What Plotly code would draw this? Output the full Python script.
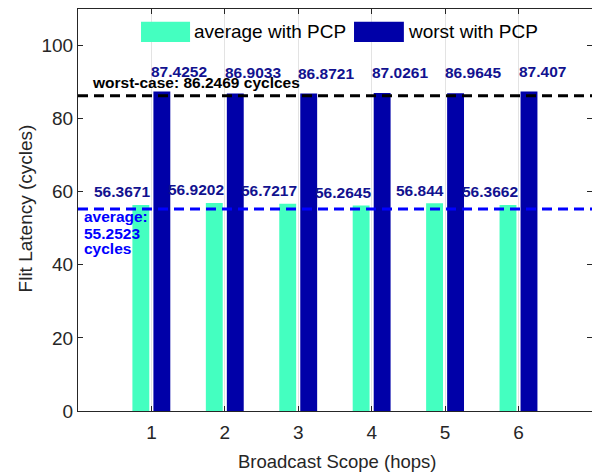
import plotly.graph_objects as go

hops = [1, 2, 3, 4, 5, 6]
avg_pcp = [56.3671, 56.9202, 56.7217, 56.2645, 56.844, 56.3662]
worst_pcp = [87.4252, 86.9033, 86.8721, 87.0261, 86.9645, 87.407]
avg_ref = 55.2523
worst_ref = 86.2469
x_ticks = [1, 2, 3, 4, 5, 6]
y_ticks = [0, 20, 40, 60, 80, 100]

GREEN = "#44FFC0"
BLUE = "#0000A8"
LABEL = "#12128F"
FONT = "Liberation Sans, Arial, sans-serif"
AXC = "#262626"

fig = go.Figure()
fig.add_trace(go.Bar(x=hops, y=avg_pcp, width=0.23, offset=-0.259,
                     marker=dict(color=GREEN, line=dict(width=0)),
                     name="average with PCP", showlegend=False))
fig.add_trace(go.Bar(x=hops, y=worst_pcp, width=0.23, offset=0.027,
                     marker=dict(color=BLUE, line=dict(width=0)),
                     name="worst with PCP", showlegend=False))

# reference lines
fig.add_shape(type="line", xref="paper", yref="y", x0=0, x1=1, y0=worst_ref, y1=worst_ref,
              line=dict(color="black", width=3, dash="10px,6px"))
fig.add_shape(type="line", xref="paper", yref="y", x0=0, x1=1, y0=avg_ref, y1=avg_ref,
              line=dict(color="#0000FF", width=3, dash="10px,6px"))

bold = dict(family=FONT, size=15.5, color=LABEL)
for h, v in zip(hops, worst_pcp):
    fig.add_annotation(x=h, y=v + 5.6, text="<b>%s</b>" % v, showarrow=False,
                       xanchor="left", yanchor="middle", font=bold, xshift=-2)
for h, v in zip(hops, avg_pcp):
    fig.add_annotation(x=h, y=v + 3.6, text="<b>%s</b>" % v, showarrow=False,
                       xanchor="right", yanchor="middle", font=bold, xshift=1)

fig.add_annotation(x=0.2, y=89.9, text="<b>worst-case: %s cyclces</b>" % worst_ref, showarrow=False,
                   xanchor="left", yanchor="middle", xshift=-3,
                   font=dict(family=FONT, size=15.5, color="black"))
avg_lines = ["average:", str(avg_ref), "cycles"]
avg_ys = [53.2, 48.7, 44.5]
for t, yy in zip(avg_lines, avg_ys):
    fig.add_annotation(x=0.09, y=yy, text="<b>%s</b>" % t, showarrow=False,
                       xanchor="left", yanchor="middle", xshift=-3,
                       font=dict(family=FONT, size=15.5, color="#0000FF"))

# manual legend
fig.add_shape(type="rect", xref="paper", yref="paper", x0=0.1226, x1=0.218, y0=0.918, y1=0.968,
              fillcolor=GREEN, line=dict(width=0))
fig.add_shape(type="rect", xref="paper", yref="paper", x0=0.537, x1=0.634, y0=0.918, y1=0.968,
              fillcolor=BLUE, line=dict(width=0))
fig.add_annotation(xref="paper", yref="paper", x=0.2257, y=0.943, text="average with PCP",
                   showarrow=False, xanchor="left", yanchor="middle", xshift=-2,
                   font=dict(family=FONT, size=19, color="black"))
fig.add_annotation(xref="paper", yref="paper", x=0.6416, y=0.943, text="worst with PCP",
                   showarrow=False, xanchor="left", yanchor="middle", xshift=-2,
                   font=dict(family=FONT, size=19, color="black"))

# axis titles
fig.add_annotation(xref="paper", yref="paper", x=0.503, y=-0.126, text="Broadcast Scope (hops)",
                   showarrow=False, xanchor="center", yanchor="middle",
                   font=dict(family=FONT, size=18.5, color=AXC))
fig.add_annotation(xref="paper", yref="paper", x=-0.103, y=0.504, text="Flit Latency (cycles)",
                   showarrow=False, xanchor="center", yanchor="middle", textangle=-90,
                   font=dict(family=FONT, size=19, color=AXC))

axis_common = dict(showline=True, linecolor=AXC, linewidth=1, mirror="ticks",
                   ticks="inside", ticklen=5, tickcolor=AXC, zeroline=False,
                   automargin=False,
                   tickfont=dict(family=FONT, size=19, color=AXC))
fig.update_xaxes(range=[0, 7], tickvals=x_ticks, showgrid=True, gridcolor="#E3E3E3", gridwidth=1,
                 ticklabelstandoff=4, **axis_common)
fig.update_yaxes(range=[0, 110], tickvals=y_ticks, showgrid=False, **axis_common)
# page body has an 8px margin, so the figure is drawn 8px in from the corner
fig.update_layout(width=592, height=464, margin=dict(l=70, r=8, t=1, b=61),
                  plot_bgcolor="white", paper_bgcolor="white", barmode="overlay")
fig.write_html("out.html")
